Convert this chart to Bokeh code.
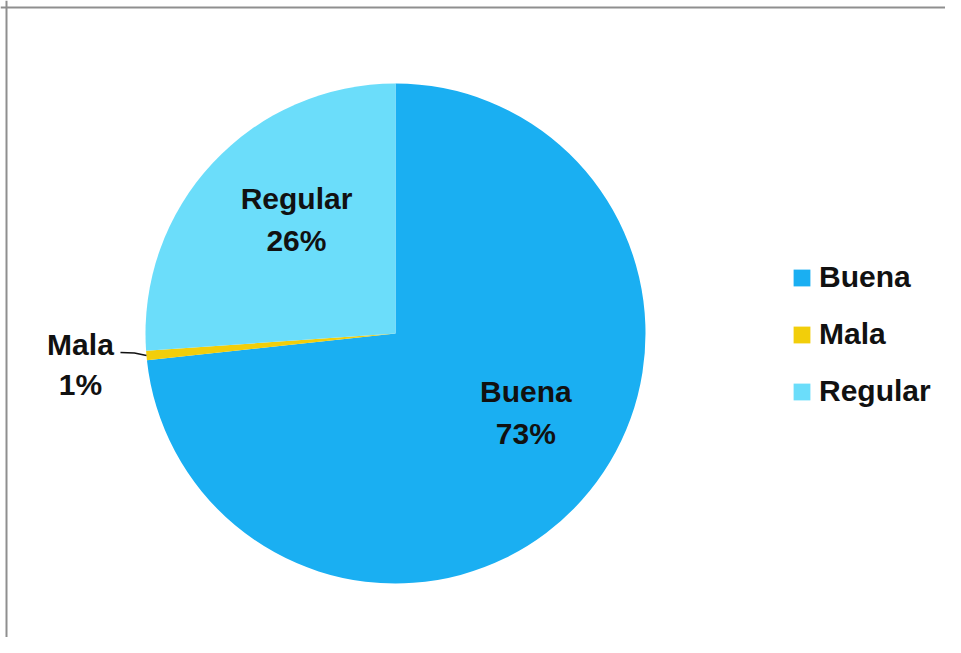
import math
from bokeh.plotting import figure
from bokeh.models import ColumnDataSource, Range1d, Span, Legend, LegendItem
from bokeh.core.properties import value
from bokeh.embed import file_html
from bokeh.resources import INLINE

# ---- data ----
categories = ["Buena", "Mala", "Regular"]
shares = [73.3, 0.6, 26.1]
pct_labels = ["73%", "1%", "26%"]
colors = ["#1AAFF2", "#F2CE0A", "#6BDDFA"]

# ---- layout ----
W, H = 945, 637
CX, CY, R = 395, H - 333, 250
FONT = "Liberation Sans"
FS = "30px"

p = figure(width=W, height=H, output_backend="svg", toolbar_location=None,
           x_range=Range1d(0, W), y_range=Range1d(0, H), min_border=0)
p.axis.visible = False
p.xgrid.visible = False
p.ygrid.visible = False
p.outline_line_color = None
p.background_fill_color = "white"
p.border_fill_color = "white"

# angles: start at 12 o'clock and go clockwise
total = sum(shares)
starts, ends, mids = [], [], []
acc = 0.0
for s in shares:
    a0 = math.pi / 2 - 2 * math.pi * acc / total
    acc += s
    a1 = math.pi / 2 - 2 * math.pi * acc / total
    starts.append(a0)
    ends.append(a1)
    mids.append((a0 + a1) / 2)

src = ColumnDataSource(dict(cat=categories, start=starts, end=ends, color=colors))
r = p.wedge(x=CX, y=CY, radius=R, start_angle="start", end_angle="end",
            direction="clock", fill_color="color", line_color=None, source=src)

# in-slice labels (angle offset in degrees and radius fraction are layout tweaks)
label_place = {"Buena": (10.7, 0.61), "Regular": (-6.0, 0.604)}
lx, ly, lt = [], [], []
for c, m, t in zip(categories, mids, pct_labels):
    if c in label_place:
        dang, fr = label_place[c]
        a = m + math.radians(dang)
        lx.append(CX + fr * R * math.cos(a))
        ly.append(CY + fr * R * math.sin(a))
        lt.append(f"{c}\n{t}")
p.text(x=lx, y=ly, text=lt, text_font=value(FONT), text_font_style="bold",
       text_font_size=FS, text_align="center", text_baseline="middle",
       text_line_height=1.25, text_color="#111111")

# outside label for the small slice with a leader line
i = categories.index("Mala")
ex = CX + R * math.cos(mids[i])
ey = CY + R * math.sin(mids[i])
p.line(x=[ex, ex - 12, ex - 26], y=[ey, ey + 2.5, ey + 3], line_color="#111111", line_width=1.5)
p.text(x=[ex - 66], y=[ey - 9], text=[f"{categories[i]}\n{pct_labels[i]}"],
       text_font=value(FONT), text_font_style="bold", text_font_size=FS,
       text_align="center", text_baseline="middle", text_line_height=1.22,
       text_color="#111111")

# legend
items = [LegendItem(label=c, renderers=[r], index=k) for k, c in enumerate(categories)]
leg = Legend(items=items, location=(791, 229), orientation="vertical",
             background_fill_alpha=0, border_line_color=None,
             padding=0, margin=0, glyph_width=21, glyph_height=21,
             label_height=34, spacing=23, label_standoff=7,
             label_text_font=FONT, label_text_font_style="bold",
             label_text_font_size=FS, label_text_color="#111111")
p.add_layout(leg)

# chart border (top and left edges visible)
p.add_layout(Span(location=6, dimension="height", line_color="#8f8f8f", line_width=2))
p.add_layout(Span(location=H - 7, dimension="width", line_color="#8f8f8f", line_width=2))

open("out.html", "w").write(file_html(p, INLINE))
